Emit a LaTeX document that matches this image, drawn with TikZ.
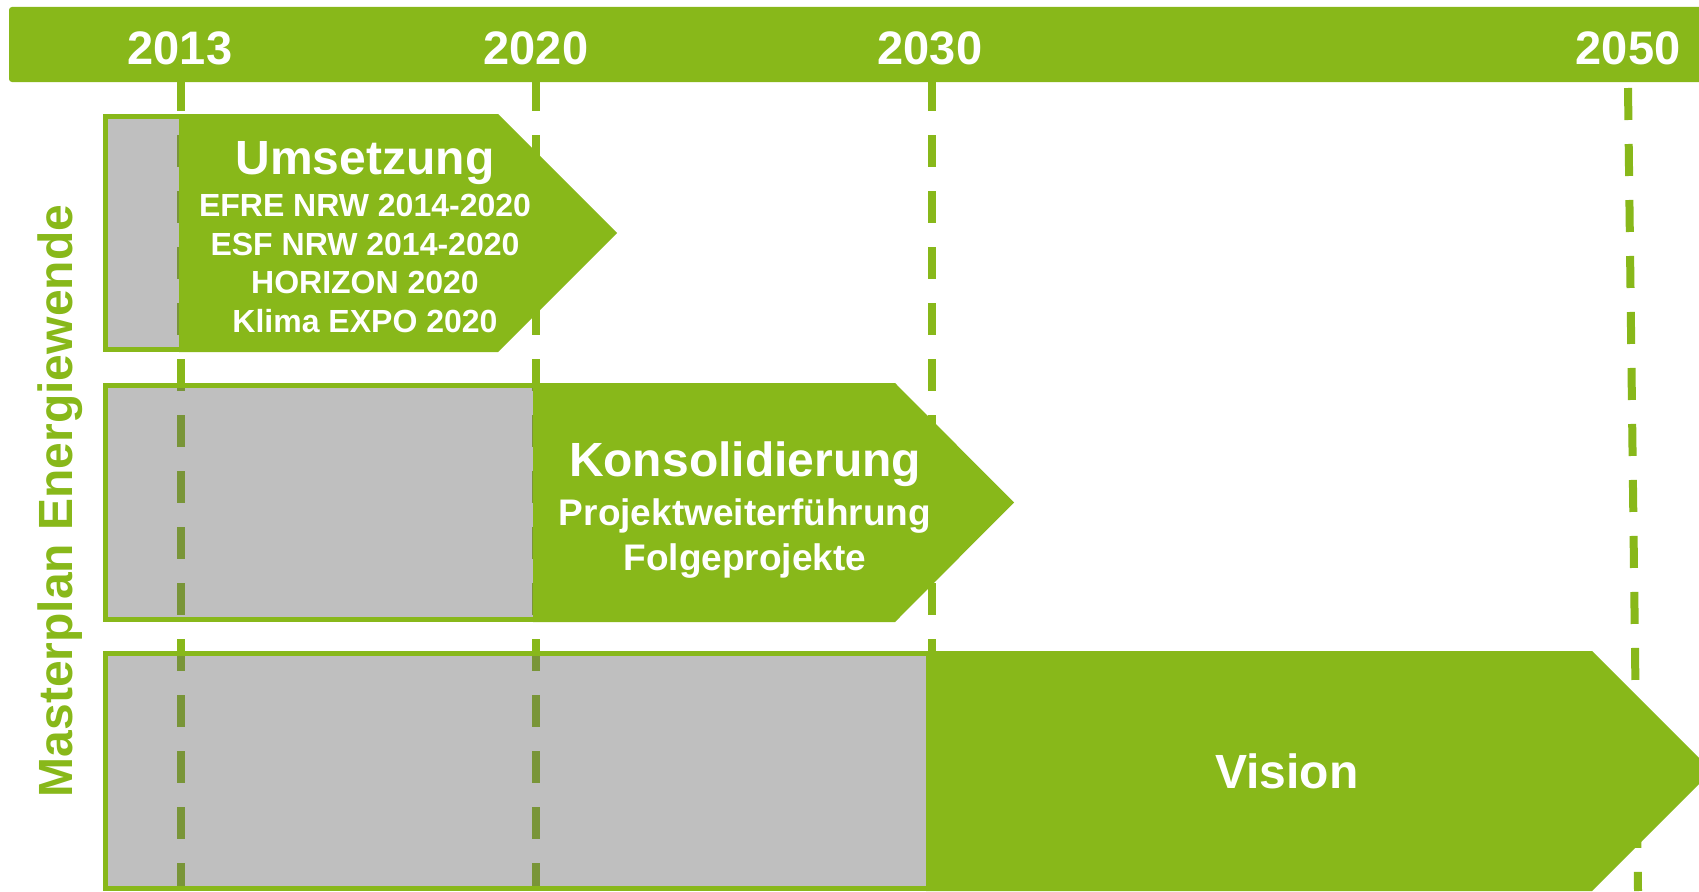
\documentclass[tikz,border=0pt]{standalone}
\usepackage{fontspec}
\setmainfont{Liberation Sans}
\definecolor{grn}{HTML}{88B81A}
\definecolor{hatch}{RGB}{101,101,101}
\begin{document}
\begin{tikzpicture}[x=1pt,y=-1pt,
  yearlbl/.style={text=white,font=\fontsize{47}{56}\selectfont\bfseries,anchor=base,inner sep=0pt},
  phase/.style={text=white,font=\fontsize{48}{58}\selectfont\bfseries,anchor=base,inner sep=0pt},
  smalltxt/.style={text=white,font=\fontsize{32}{38}\selectfont\bfseries,anchor=base,inner sep=0pt},
  midtxt/.style={text=white,font=\fontsize{37}{44}\selectfont\bfseries,anchor=base,inner sep=0pt},
  sidelbl/.style={text=grn,font=\fontsize{48}{58}\selectfont\bfseries,anchor=base,inner sep=0pt,rotate=90},
  timeline/.style={draw=grn,line width=8pt,dash pattern=on 32pt off 24pt},
  body/.style={fill=grn},
  frame/.style={draw=grn,line width=5pt},
  greyarea/.style={fill=hatch,fill opacity=0.41}]
\clip (0,0) rectangle (1699,891);
\fill[white] (0,0) rectangle (1699,891);
% dashed year lines (behind everything)
\coordinate (l13t) at (181,79);  \coordinate (l13b) at (181,891);
\coordinate (l20t) at (536,79);  \coordinate (l20b) at (536,891);
\coordinate (l30t) at (932,79);  \coordinate (l30b) at (932,891);
\coordinate (l50t) at (1628,88); \coordinate (l50b) at (1638,891);
\draw[timeline] (l13t) -- (l13b);
\draw[timeline] (l20t) -- (l20b);
\draw[timeline] (l30t) -- (l30b);
\draw[timeline] (l50t) -- (l50b);
% top bar
\fill[grn,rounded corners=3pt] (9,7) rectangle (1730,82);
\node[yearlbl] (y2013) at (180,65) {2013};
\node[yearlbl] (y2020) at (536,65) {2020};
\node[yearlbl] (y2030) at (930,65) {2030};
\node[yearlbl] (y2050) at (1628,65) {2050};
% box 1 Umsetzung
\fill[body] (179,114) -- (498,114) -- (617,233) -- (498,352) -- (179,352) -- cycle;
\draw[frame] (105.5,116.5) rectangle (181,349.5);
\fill[greyarea] (108,119) rectangle (179,347);
% box 2 Konsolidierung
\fill[body] (533,383) -- (895,383) -- (1014,502.5) -- (895,622) -- (533,622) -- cycle;
\draw[frame] (105.5,385.5) rectangle (535,619.5);
\fill[greyarea] (108,388) rectangle (533,617);
% box 3 Vision
\fill[body] (926,651) -- (1592,651) -- (1712,771) -- (1592,891) -- (926,891) -- cycle;
\draw[frame] (105.5,653.5) rectangle (928,888.5);
\fill[greyarea] (108,656) rectangle (926,886);
% texts
\node[phase] (umsetzung) at (365,174) {Umsetzung};
\node[smalltxt] (efre) at (365,216) {EFRE NRW 2014-2020};
\node[smalltxt] (esf) at (365,255) {ESF NRW 2014-2020};
\node[smalltxt] (horizon) at (365,293) {HORIZON 2020};
\node[smalltxt] (klima) at (365,332) {Klima EXPO 2020};
\node[phase] (konsol) at (745,476) {Konsolidierung};
\node[midtxt] (projekt) at (745,525) {Projektweiterführung};
\node[midtxt] (folge) at (745,570) {Folgeprojekte};
\node[phase] (vision) at (1287,788) {Vision};
\node[sidelbl] (master) at (72,501) {Masterplan Energiewende};
\end{tikzpicture}
\end{document}
